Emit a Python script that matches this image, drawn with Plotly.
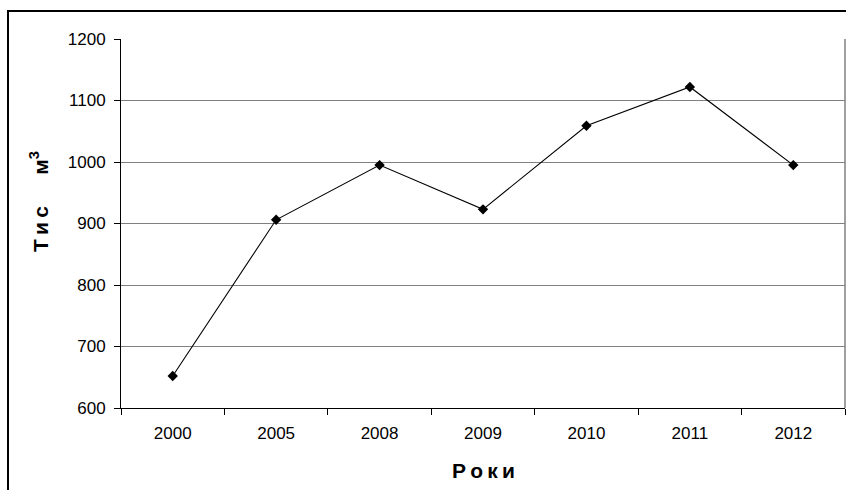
import plotly.graph_objects as go

years = ["2000", "2005", "2008", "2009", "2010", "2011", "2012"]
values = [652, 906, 995, 923, 1059, 1122, 995]
y_ticks = [600, 700, 800, 900, 1000, 1100, 1200]

fig = go.Figure()
fig.add_trace(go.Scatter(
    x=years, y=values, mode="lines+markers",
    line=dict(color="black", width=1.1),
    marker=dict(symbol="diamond", size=8, color="black"),
    showlegend=False,
))

font = "Liberation Sans, Arial, sans-serif"
ts = "\u2009"
# plot area in window pixels: x 121..845, y 39..408
PL, PR, PT, PB = 121, 845, 39, 408
def px(x):
    return (x - PL) / (PR - PL)
def py(y):
    return (PB - y) / (PB - PT)

fig.update_layout(
    width=846, height=490,
    margin=dict(l=PL, r=846 - PR, t=PT, b=490 - PB),
    paper_bgcolor="white", plot_bgcolor="white",
    font=dict(family=font, color="black", size=17),
    xaxis=dict(
        type="category", range=[-0.5, len(years) - 0.5],
        tickson="boundaries", ticks="outside", ticklen=6,
        tickcolor="black", showline=True, linecolor="black", linewidth=1,
        showgrid=False, tickfont=dict(size=17), ticklabelstandoff=10,
    ),
    yaxis=dict(
        range=[600, 1200], tickvals=y_ticks, ticks="outside", ticklen=6,
        tickcolor="black", showline=True, linecolor="black", linewidth=1,
        showgrid=True, gridcolor="#808080", gridwidth=1, zeroline=False,
        tickfont=dict(size=17), ticklabelstandoff=5,
    ),
    annotations=[
        dict(text="<b>" + ts.join("Роки") + "</b>", xref="paper", yref="paper",
             x=px(483), y=py(470), xanchor="center", yanchor="middle",
             showarrow=False, font=dict(size=21)),
        dict(text="<b>" + ts.join("Тис") + "\u2003\u2002" + "м<sup>3</sup></b>",
             xref="paper", yref="paper", textangle=-90,
             x=px(39), y=py(202), xanchor="center", yanchor="middle",
             showarrow=False, font=dict(size=21)),
    ],
    shapes=[
        dict(type="line", xref="paper", yref="paper", x0=1, x1=1, y0=0, y1=1,
             line=dict(color="#808080", width=1.5)),
        dict(type="rect", xref="paper", yref="paper",
             x0=px(8), x1=px(900), y0=py(560), y1=py(11),
             line=dict(color="black", width=2)),
    ],
)

fig.write_html(
    "out.html",
    config={"displayModeBar": False},
    post_script="document.body.style.margin='0';document.body.style.overflow='hidden';",
)
